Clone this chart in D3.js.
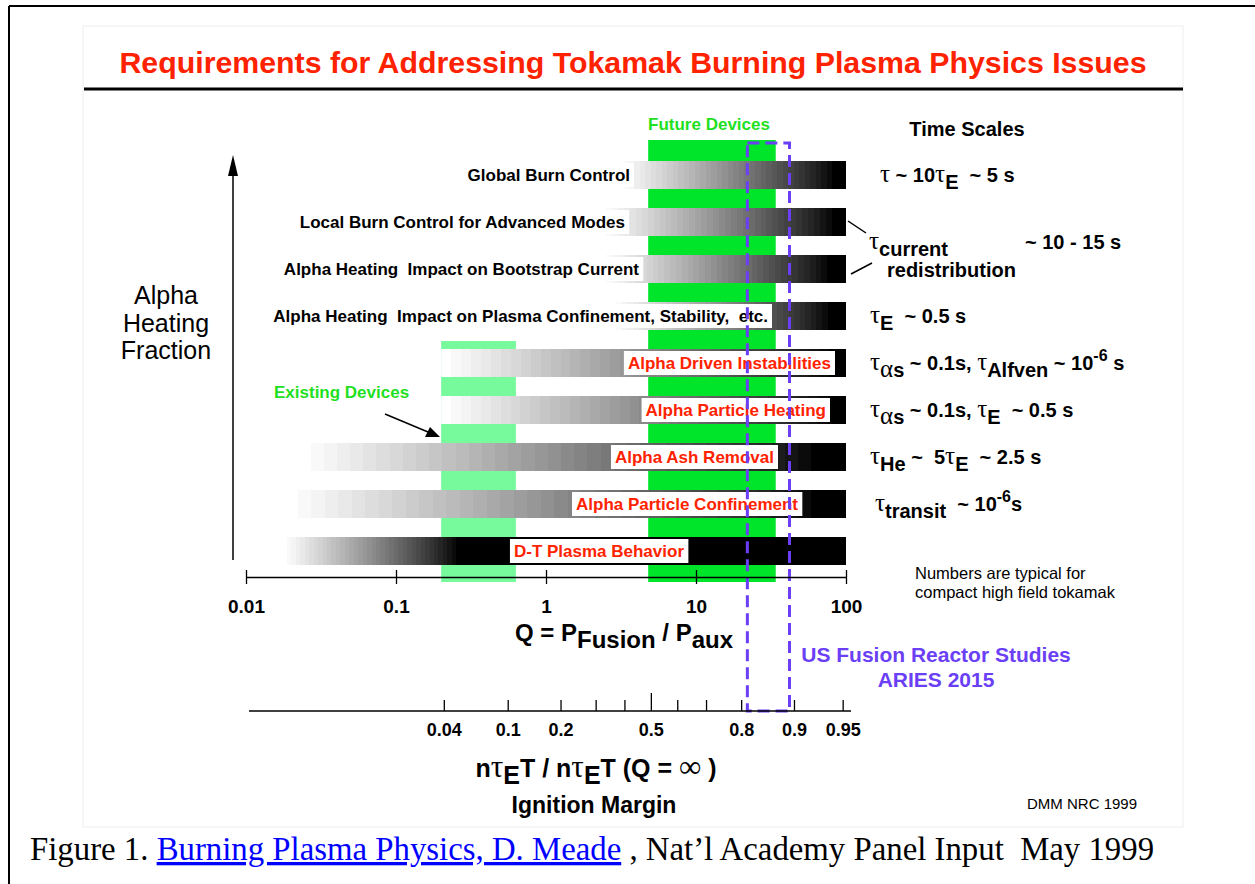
<!DOCTYPE html>
<meta charset="utf-8">
<head>
<title>Requirements for Addressing Tokamak Burning Plasma Physics Issues</title>
<style>
  body { margin: 0; background: #fff; }
</style>
</head>
<body>
<script src="https://cdn.jsdelivr.net/npm/d3@7"></script>
<script>

// ---- data ----
var rows = [
  "Global Burn Control",
  "Local Burn Control for Advanced Modes",
  "Alpha Heating  Impact on Bootstrap Current",
  "Alpha Heating  Impact on Plasma Confinement, Stability,  etc.",
  "Alpha Driven Instabilities",
  "Alpha Particle Heating",
  "Alpha Ash Removal",
  "Alpha Particle Confinement",
  "D-T Plasma Behavior"
];
// Q where each shaded bar starts (white) and where it turns fully black
var qStart = [3, 2.3, 2.3, 2.7, 0.2, 0.2, 0.022, 0.018, 0.0175];
var qBlack = [88, 88, 82, 82, 90, 88, 72, 72, 0.27];
var redLabel = [false, false, false, false, true, true, true, true, true];

var qTicks = [0.01, 0.1, 1, 10, 100];
var marginTicks = [0.04, 0.1, 0.2, 0.3, 0.4, 0.5, 0.6, 0.7, 0.8, 0.9, 0.95];
var marginLabels = [0.04, 0.1, 0.2, 0.5, 0.8, 0.9, 0.95];

var existingQ = [0.2, 0.63];
var futureQ = [4.8, 34];
var ariesQ = [22, 42];

// time scale notes: "_" = subscript, "^" = superscript
var timeRows = [0, 3, 4, 5, 6, 7];
var timeScales = [
  ["τ", " ~ 10", "τ", "_E", "  ~ 5 s"],
  ["τ", "_E", "  ~ 0.5 s"],
  ["τ", "_α", "_s", " ~ 0.1s, ", "τ", "_Alfven", " ~ 10", "^-6", " s"],
  ["τ", "_α", "_s", " ~ 0.1s, ", "τ", "_E", "  ~ 0.5 s"],
  ["τ", "_He", " ~  5", "τ", "_E", "  ~ 2.5 s"],
  ["τ", "_transit", "  ~ 10", "^-6", "s"]
];

// ---- layout ----
var W = 1255, H = 884;
var labelRight = [634, 629, 643, 772, 835, 830, 778, 802, 688];
var timeX = [880, 870, 870, 870, 870, 875];
var barH = 28;
var RED = "#ff2200", PURPLE = "#6a3ff5", GREEN_TXT = "#1fe01f";
var SANS = "'Liberation Sans', Arial, Helvetica, sans-serif";
var SERIF = "'Liberation Serif', 'Times New Roman', serif";

var svg = d3.select("body").append("svg")
  .attr("width", W)
  .attr("height", H)
  .attr("font-family", SANS);

// page frame and slide
svg.append("line").attr("x1", 9).attr("x2", W).attr("y1", 6).attr("y2", 6)
  .attr("stroke", "#000").attr("stroke-width", 2);
svg.append("line").attr("x1", 9).attr("x2", 9).attr("y1", 6).attr("y2", H)
  .attr("stroke", "#000").attr("stroke-width", 2);
svg.append("rect").attr("x", 83).attr("y", 26).attr("width", 1100).attr("height", 801)
  .attr("fill", "#fff").attr("stroke", "#eeeeee");

svg.append("text")
  .attr("x", 633).attr("y", 73)
  .attr("text-anchor", "middle")
  .attr("font-size", 30.3).attr("font-weight", "bold")
  .attr("fill", RED)
  .text("Requirements for Addressing Tokamak Burning Plasma Physics Issues");
svg.append("line").attr("x1", 84).attr("x2", 1183).attr("y1", 89).attr("y2", 89)
  .attr("stroke", "#000").attr("stroke-width", 3);

var x = d3.scaleLog().domain([0.01, 100]).range([246, 846]);
var y = d3.scalePoint().domain(rows).range([175, 551]);

// finely stepped white->black gradients, one per bar
var defs = svg.append("defs");
var N = 40;
rows.forEach(function(r, i) {
  var g = defs.append("linearGradient")
    .attr("id", "g" + i)
    .attr("gradientUnits", "userSpaceOnUse")
    .attr("x1", x(qStart[i])).attr("x2", x(qBlack[i]))
    .attr("y1", 0).attr("y2", 0);
  for (var k = 0; k < N; k++) {
    var v = Math.round(255 * Math.pow(1 - k / (N - 1), 0.85));
    var c = d3.rgb(v, v, v);
    g.append("stop").attr("offset", k / N).attr("stop-color", c);
    g.append("stop").attr("offset", (k + 1) / N).attr("stop-color", c);
  }
});

// device bands
svg.append("rect")
  .attr("x", x(existingQ[0])).attr("width", x(existingQ[1]) - x(existingQ[0]))
  .attr("y", 341).attr("height", 241)
  .attr("fill", "#77fa9c");
svg.append("rect")
  .attr("x", x(futureQ[0])).attr("width", x(futureQ[1]) - x(futureQ[0]))
  .attr("y", 140).attr("height", 442)
  .attr("fill", "#00e52a");

// bars
svg.selectAll("rect.bar")
  .data(rows)
  .enter().append("rect")
  .attr("class", "bar")
  .attr("x", function(d, i) { return x(qStart[i]); })
  .attr("width", function(d, i) { return x(100) - x(qStart[i]); })
  .attr("y", function(d) { return y(d) - barH / 2; })
  .attr("height", barH)
  .attr("fill", function(d, i) { return "url(#g" + i + ")"; });

// bar labels on white boxes
rows.forEach(function(r, i) {
  var g = svg.append("g");
  var t = g.append("text")
    .attr("x", labelRight[i] - 4)
    .attr("y", y(r))
    .attr("dy", "0.36em")
    .attr("text-anchor", "end")
    .attr("font-size", 17).attr("font-weight", "bold")
    .attr("fill", redLabel[i] ? RED : "#000")
    .style("white-space", "pre")
    .text(r);
  var bb = t.node().getBBox();
  g.insert("rect", "text")
    .attr("x", bb.x - 4).attr("width", bb.width + 8)
    .attr("y", y(r) - barH / 2 + 2).attr("height", barH - 4)
    .attr("fill", "#fff");
});

// ARIES dashed box
svg.append("rect")
  .attr("x", x(ariesQ[0])).attr("width", x(ariesQ[1]) - x(ariesQ[0]))
  .attr("y", 143).attr("height", 711 - 143)
  .attr("fill", "none")
  .attr("stroke", PURPLE).attr("stroke-width", 3)
  .attr("stroke-dasharray", "12,6");

// Q axis
var qAxis = d3.axisBottom(x)
  .tickValues(qTicks)
  .tickFormat(d3.format("~g"))
  .tickSizeInner(7).tickSizeOuter(0)
  .tickPadding(16);
var gq = svg.append("g")
  .attr("transform", "translate(0,577)")
  .call(qAxis)
  .attr("font-family", SANS)
  .attr("font-size", 19).attr("font-weight", "bold");
gq.selectAll(".tick line").attr("y1", -7).attr("stroke-width", 1.3);
gq.select(".domain").attr("stroke-width", 1.5);

// Ignition margin axis: M maps to Q = 5M/(1-M)
function mToQ(m) { return 5 * m / (1 - m); }
var mAxis = d3.axisBottom(x)
  .tickValues(marginTicks.map(mToQ))
  .tickFormat(function(q, i) {
    var m = marginTicks[i];
    return marginLabels.indexOf(m) >= 0 ? String(m) : "";
  })
  .tickSizeInner(-11).tickSizeOuter(0)
  .tickPadding(12);
var gm = svg.append("g")
  .attr("transform", "translate(0,711)")
  .call(mAxis)
  .attr("font-family", SANS)
  .attr("font-size", 18).attr("font-weight", "bold");
gm.select(".domain").remove();
gm.append("line").attr("x1", x(0.01) + 3).attr("x2", x(100) + 5)
  .attr("stroke", "#000").attr("stroke-width", 1.5);
gm.selectAll(".tick line")
  .attr("stroke-width", 1.3)
  .filter(function(q, i) { return marginTicks[i] === 0.5; })
  .attr("y2", -18);

// rich text helper
function rich(xp, yp, parts, size, anchor) {
  var t = svg.append("text")
    .attr("x", xp).attr("y", yp)
    .attr("font-size", size).attr("font-weight", "bold")
    .attr("text-anchor", anchor || "start")
    .style("white-space", "pre");
  var cur = 0;
  parts.forEach(function(p) {
    var sub = p[0] === "_", sup = p[0] === "^";
    var s = (sub || sup) ? p.slice(1) : p;
    var shift = sub ? 7 : (sup ? -9 : 0);
    var ts = t.append("tspan").attr("dy", shift - cur).text(s);
    cur = shift;
    if (s === "τ" || s === "α" || s === "∞") {
      ts.attr("font-family", SERIF)
        .attr("font-weight", "normal")
        .attr("font-size", size * 1.25);
    }
    if (sup) ts.attr("font-size", size * 0.8);
  });
  return t;
}

// axis titles
rich(624, 641, ["Q = P", "_Fusion", " / P", "_aux"], 24, "middle");
rich(596, 777, ["n", "τ", "_E", "T / n", "τ", "_E", "T (Q = ", "∞", " )"], 25, "middle");
svg.append("text").attr("x", 594).attr("y", 813)
  .attr("text-anchor", "middle")
  .attr("font-size", 23).attr("font-weight", "bold")
  .text("Ignition Margin");

// vertical arrow & y title
svg.append("line").attr("x1", 233).attr("x2", 233).attr("y1", 560).attr("y2", 172)
  .attr("stroke", "#000").attr("stroke-width", 1.5);
svg.append("path").attr("d", "M233,155 L228,176 L238,176 Z").attr("fill", "#000");
["Alpha", "Heating", "Fraction"].forEach(function(s, i) {
  svg.append("text").attr("x", 166).attr("y", 304 + i * 27.5)
    .attr("text-anchor", "middle").attr("font-size", 25)
    .text(s);
});

// device notes
svg.append("text").attr("x", 274).attr("y", 398)
  .attr("font-size", 17).attr("font-weight", "bold").attr("fill", GREEN_TXT)
  .text("Existing Devices");
svg.append("line").attr("x1", 385).attr("y1", 414).attr("x2", 428).attr("y2", 432)
  .attr("stroke", "#000").attr("stroke-width", 1.5);
svg.append("path").attr("d", "M440,437 L425,437 L430,427 Z").attr("fill", "#000");
svg.append("text").attr("x", 709).attr("y", 130)
  .attr("text-anchor", "middle")
  .attr("font-size", 17).attr("font-weight", "bold").attr("fill", GREEN_TXT)
  .text("Future Devices");

// time scales
svg.append("text").attr("x", 967).attr("y", 136)
  .attr("text-anchor", "middle")
  .attr("font-size", 20).attr("font-weight", "bold")
  .text("Time Scales");
timeScales.forEach(function(parts, i) {
  rich(timeX[i], y(rows[timeRows[i]]) + 7, parts, 20);
});
rich(869, 249, ["τ", "_current"], 20);
rich(887, 277, ["redistribution"], 20);
rich(1025, 249, ["~ 10 - 15 s"], 20);
svg.append("line").attr("x1", 848).attr("y1", 221).attr("x2", 866).attr("y2", 233)
  .attr("stroke", "#000").attr("stroke-width", 1.5);
svg.append("line").attr("x1", 851).attr("y1", 274).attr("x2", 872).attr("y2", 263)
  .attr("stroke", "#000").attr("stroke-width", 1.5);

["Numbers are typical for", "compact high field tokamak"].forEach(function(s, i) {
  svg.append("text").attr("x", 915).attr("y", 579 + i * 19)
    .attr("font-size", 16.5).text(s);
});

["US Fusion Reactor Studies", "ARIES 2015"].forEach(function(s, i) {
  svg.append("text").attr("x", 936).attr("y", 662 + i * 25)
    .attr("text-anchor", "middle")
    .attr("font-size", 21).attr("font-weight", "bold").attr("fill", PURPLE)
    .text(s);
});

svg.append("text").attr("x", 1027).attr("y", 809)
  .attr("font-size", 15).text("DMM NRC 1999");

// caption
var cap = svg.append("text").attr("x", 30).attr("y", 860)
  .attr("font-family", SERIF)
  .attr("font-size", 32.8)
  .style("white-space", "pre");
cap.append("tspan").text("Figure 1. ");
cap.append("tspan").attr("fill", "#0000ff").style("text-decoration", "underline")
  .text("Burning Plasma Physics, D. Meade");
cap.append("tspan").text(" , Nat\u2019l Academy Panel Input  May 1999");

</script>
</body>
